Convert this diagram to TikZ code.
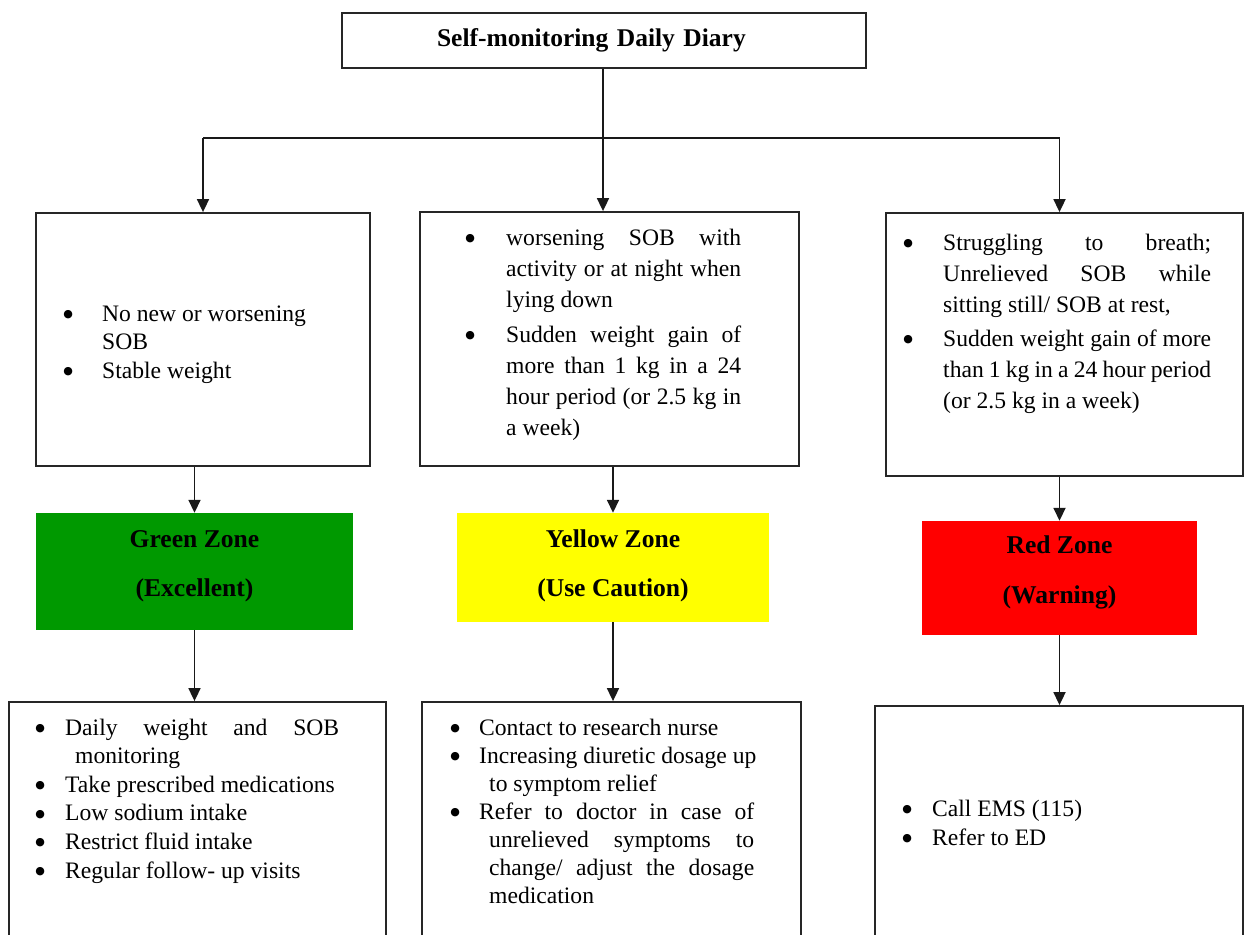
\documentclass[tikz,border=0pt]{standalone}
\usepackage{fontspec}
\setmainfont{Liberation Serif}
\newfontfamily\dejavu{DejaVu Sans}
\usetikzlibrary{arrows.meta}
\newcommand\jline[2]{\makebox[#1pt][s]{#2}}
\newcommand\bul{\hspace*{4pt}\makebox[0pt]{\smash{\raisebox{3.8pt}{\dejavu\fontsize{11}{12}\selectfont ●}}}}
\definecolor{zgreen}{RGB}{0,153,0}
\definecolor{zyellow}{RGB}{255,255,0}
\definecolor{zred}{RGB}{255,0,0}
\begin{document}
\begin{tikzpicture}[x=1pt,y=-1pt,
  box/.style={draw=black!85, line width=1.8pt, inner sep=0},
  arr/.style={draw=black!90, line width=1.7pt, -{Triangle[length=13pt,width=12pt]}},
  txt/.style={inner sep=0, anchor=base west},
  zone/.style={inner sep=0, font=\bfseries\fontsize{25.6}{49}\selectfont}]
\useasboundingbox (0,0) rectangle (1244,934);
\clip (0,0) rectangle (1244,934);
\fill[white] (0,0) rectangle (1244,934);

% title
\node[box, text width=524, align=left, text height=34, text depth=21,
  font=\bfseries\fontsize{25.5}{28}\selectfont] (title) at (604,40.5)
  {\hspace*{95pt}Self-monitoring Daily Diary};

% condition boxes
\node[box, minimum width=334, minimum height=253] (b1) at (203,339.5) {};
\node[box, minimum width=379, minimum height=254] (b2) at (609.5,339) {};
\node[box, minimum width=357, minimum height=263] (b3) at (1064.5,344.5) {};

% zones
\node[zone, fill=zgreen, minimum width=317, text height=34, text depth=83] (g) at (194.5,571.5)
  {\begin{tabular}[t]{@{}c@{}}Green Zone\\(Excellent)\end{tabular}};
\node[zone, fill=zyellow, minimum width=312, text height=34, text depth=75] (yz) at (613,567.5)
  {\begin{tabular}[t]{@{}c@{}}Yellow Zone\\(Use Caution)\end{tabular}};
\node[zone, fill=zred, minimum width=275, text height=32, text depth=82,
  font=\bfseries\fontsize{25.6}{50}\selectfont] (r) at (1059.5,578)
  {\begin{tabular}[t]{@{}c@{}}Red Zone\\(Warning)\end{tabular}};

% action boxes
\node[box, minimum width=377, minimum height=248] (c1) at (197.5,826) {};
\node[box, minimum width=379, minimum height=248] (c2) at (611.5,826) {};
\node[box, minimum width=368, minimum height=244] (c3) at (1059,828) {};

% connectors
\coordinate (split) at (603,138);
\draw[line width=1.7pt, black!90] (b1.north |- split) -- (split -| r.north);
\draw[arr] (title.south -| split) -- (b2.north -| split);
\draw[arr] (b1.north |- split) -- (b1.north);
\draw[arr] (split -| r.north) -- (b3.north -| r.north);
\draw[arr] (b1.south -| g.north) -- (g.north);
\draw[arr] (b2.south -| yz.north) -- (yz.north);
\draw[arr] (b3.south -| r.north) -- (r.north);
\draw[arr] (g.south) -- (c1.north -| g.south);
\draw[arr] (yz.south) -- (c2.north -| yz.south);
\draw[arr] (r.south) -- (c3.north -| r.south);

% texts
\node[txt, font=\fontsize{23.6}{28.7}\selectfont] (b1t) at (64,321)
 {\begin{tabular}[t]{@{}p{38pt}@{}l@{}}
  \bul & No new or worsening\\
       & SOB\\
  \bul & Stable weight
 \end{tabular}};

\node[txt, font=\fontsize{23.6}{31}\selectfont] (b2t) at (466,245)
 {\begin{tabular}[t]{@{}p{40pt}@{}l@{}}
  \bul & \jline{235}{worsening SOB with}\\
       & \jline{235}{activity or at night when}\\
       & lying down\\[4pt]
  \bul & \jline{235}{Sudden weight gain of}\\
       & \jline{235}{more than 1 kg in a 24}\\
       & \jline{235}{hour period (or 2.5 kg in}\\
       & a week)
 \end{tabular}};

\node[txt, font=\fontsize{23.6}{31}\selectfont] (b3t) at (904,250)
 {\begin{tabular}[t]{@{}p{39pt}@{}l@{}}
  \bul & \jline{268}{Struggling to breath;}\\
       & \jline{268}{Unrelieved SOB while}\\
       & sitting still/ SOB at rest,\\[3pt]
  \bul & \jline{268}{Sudden weight gain of more}\\
       & \jline{268}{than 1 kg in a 24 hour period}\\
       & (or 2.5 kg in a week)
 \end{tabular}};

\node[txt, font=\fontsize{23.6}{28.6}\selectfont] (c1t) at (36,735)
 {\begin{tabular}[t]{@{}p{29pt}@{}l@{}}
  \bul & \jline{274}{Daily weight and SOB}\\
       & \hspace*{10pt}monitoring\\
  \bul & Take prescribed medications\\
  \bul & Low sodium intake\\
  \bul & Restrict fluid intake\\
  \bul & Regular follow- up visits
 \end{tabular}};

\node[txt, font=\fontsize{23.6}{28}\selectfont] (c2t) at (451,735)
 {\begin{tabular}[t]{@{}p{28pt}@{}l@{}}
  \bul & Contact to research nurse\\
  \bul & Increasing diuretic dosage up\\
       & \hspace*{10pt}to symptom relief\\
  \bul & \jline{275}{Refer to doctor in case of}\\
       & \hspace*{10pt}\jline{265}{unrelieved symptoms to}\\
       & \hspace*{10pt}\jline{265}{change/ adjust the dosage}\\
       & \hspace*{10pt}medication
 \end{tabular}};

\node[txt, font=\fontsize{23.6}{29}\selectfont] (c3t) at (903,816)
 {\begin{tabular}[t]{@{}p{29pt}@{}l@{}}
  \bul & Call EMS (115)\\
  \bul & Refer to ED
 \end{tabular}};
\end{tikzpicture}
\end{document}
